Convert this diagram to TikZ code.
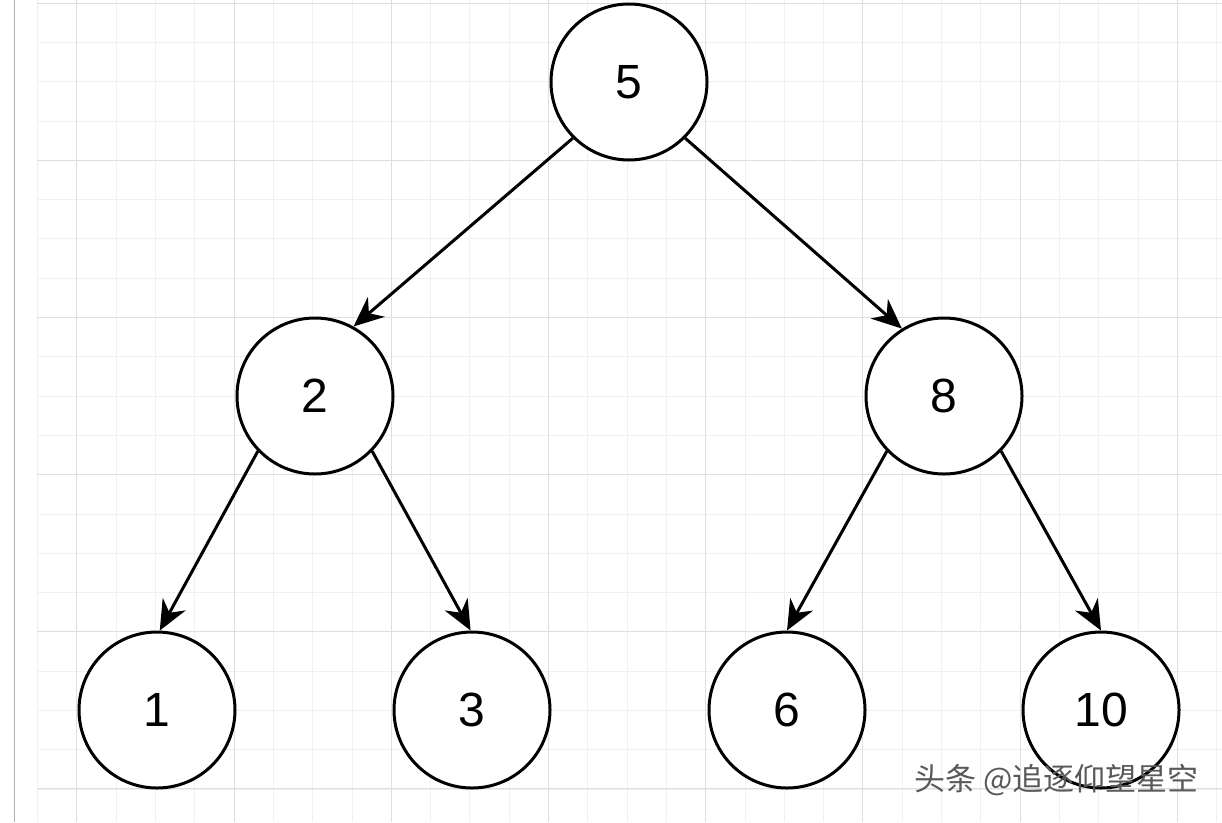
\documentclass[tikz,border=0pt]{standalone}
\usepackage{fontspec}
\setmainfont{Liberation Sans}
\newfontfamily\cjk{Noto Sans CJK SC}
\usetikzlibrary{arrows.meta}
\begin{document}
\begin{tikzpicture}[
    x=1pt, y=-1pt,
    treenode/.style={circle, draw=black, line width=3pt, fill=white, minimum size=156pt, inner sep=0pt, font=\fontsize{48}{58}\selectfont},
    link/.style={-{Stealth[length=30pt,width=26pt]}, line width=3pt}
]
    % background and grid
    \fill[white] (0,0) rectangle (1222,822);
    \useasboundingbox (0,0) rectangle (1222,822);
    \foreach \gx in {37.5,76.8,...,1222} \draw[black!6, line width=0.8pt] (\gx,0) -- (\gx,822);
    \foreach \gy in {3,42.3,...,822} \draw[black!6, line width=0.8pt] (37,\gy) -- (1222,\gy);
    \foreach \gx in {76.8,234,...,1222} \draw[black!13, line width=0.9pt] (\gx,0) -- (\gx,822);
    \foreach \gy in {3,160,...,822} \draw[black!13, line width=0.9pt] (37,\gy) -- (1222,\gy);
    \draw[black!30, line width=1pt] (14,0) -- (14,822);

    % nodes
    \node[treenode] (n5) at (629,82) {5};
    \node[treenode] (n2) at (315,396) {2};
    \node[treenode] (n8) at (944,396) {8};
    \node[treenode] (n1) at (157,710) {1};
    \node[treenode] (n3) at (472,710) {3};
    \node[treenode] (n6) at (787,710) {6};
    \node[treenode] (n10) at (1101,710) {10};

    % edges
    \draw[link] (n5.225) -- (n2.61);
    \draw[link] (n5.315) -- (n8.122);
    \draw[link] (n2.224) -- (n1.88);
    \draw[link] (n2.316) -- (n3.91);
    \draw[link] (n8.224) -- (n6.90);
    \draw[link] (n8.316) -- (n10.90);

    % watermark
    \node[text=black!65, font=\cjk\fontsize{31}{36}\selectfont, anchor=east] (mark) at (1202,780) {头条 @追逐仰望星空};
\end{tikzpicture}
\end{document}
